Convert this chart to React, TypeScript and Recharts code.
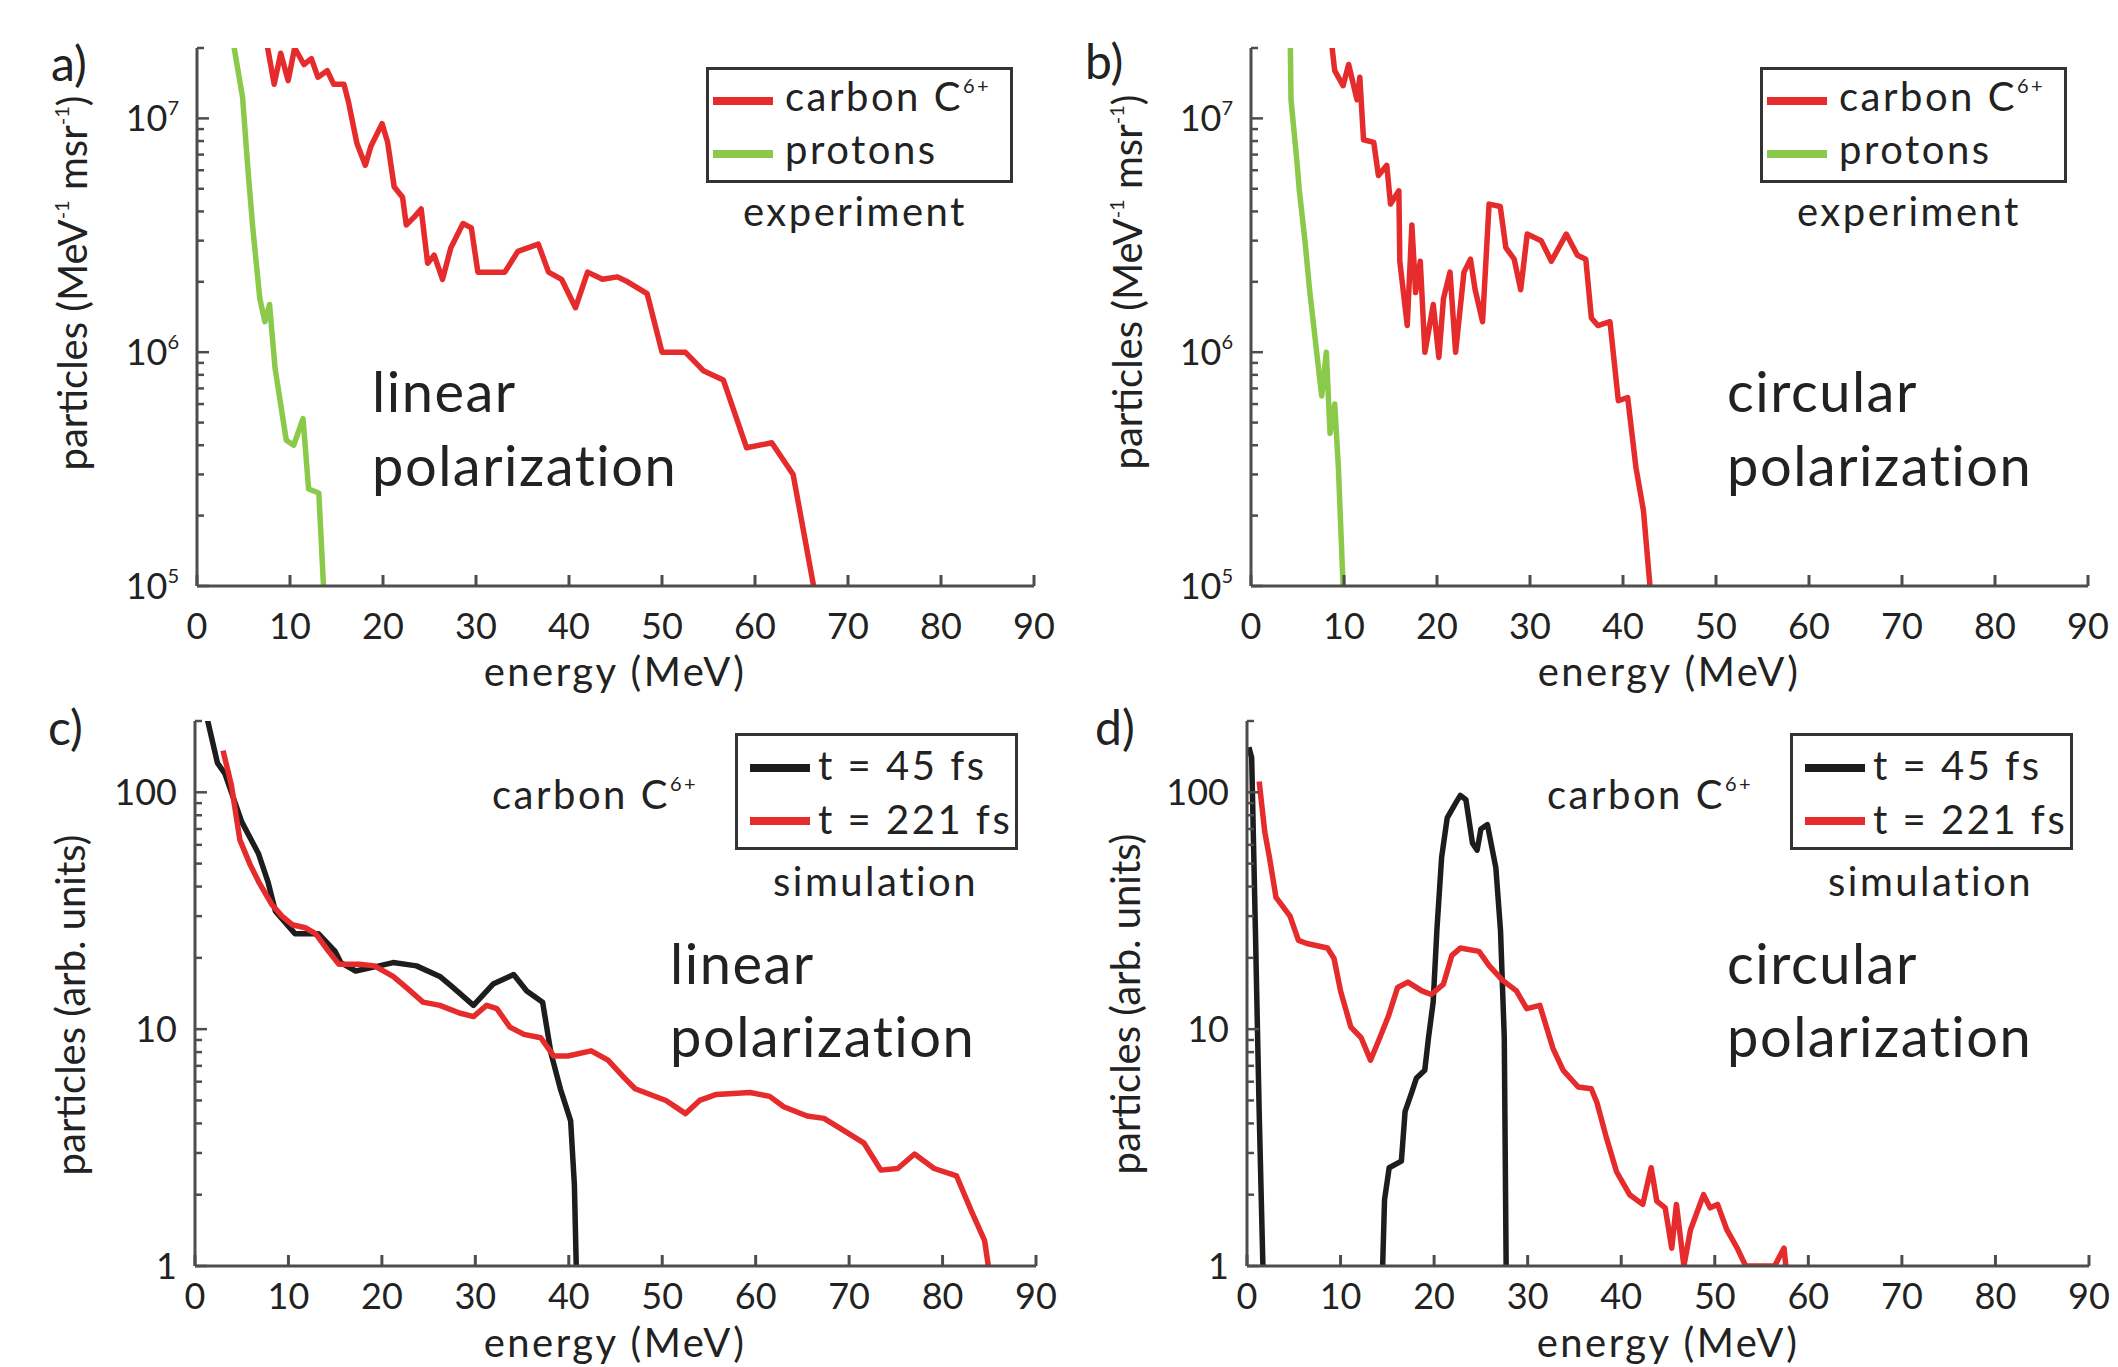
import React from 'react';
import { LineChart, Line, XAxis, YAxis } from 'recharts';

const FONT = 'Lato, "Open Sans", sans-serif';
const INK = '#222';
const FRAME = '#4d4d4d';
const RED = '#e52b2b';
const GREEN = '#8bc94a';
const BLACK = '#1d1d1d';

// shared axes
const energyTicks = [0, 10, 20, 30, 40, 50, 60, 70, 80, 90];
const expTicks = [1e5, 2e5, 3e5, 4e5, 5e5, 6e5, 7e5, 8e5, 9e5, 1e6, 2e6, 3e6, 4e6, 5e6, 6e6, 7e6, 8e6, 9e6, 1e7, 2e7];
const expDecades = [1e5, 1e6, 1e7];
const simTicks = [1, 2, 3, 4, 5, 6, 7, 8, 9, 10, 20, 30, 40, 50, 60, 70, 80, 90, 100, 200];
const simDecades = [1, 10, 100];

// a) experiment, linear polarization
const aCarbonE = [7.0, 7.5, 8.3, 9.0, 9.8, 10.5, 11.5, 12.3, 13.0, 14.0, 14.7, 15.8, 16.3, 17.2, 18.1, 18.7, 19.9, 20.5, 21.2, 22.1, 22.5, 23.4, 24.1, 24.8, 25.5, 26.4, 27.3, 28.6, 29.5, 30.2, 33.1, 34.5, 36.7, 37.8, 39.2, 40.7, 42.0, 43.6, 45.2, 46.3, 48.4, 50.0, 52.5, 54.5, 56.6, 59.1, 61.8, 64.1, 66.3];
const aCarbonN = [26e6, 21e6, 14e6, 19e6, 14.5e6, 20e6, 17e6, 18e6, 15e6, 16e6, 14e6, 14e6, 11.7e6, 7.8e6, 6.3e6, 7.6e6, 9.5e6, 7.9e6, 5.1e6, 4.6e6, 3.5e6, 3.8e6, 4.1e6, 2.4e6, 2.6e6, 2.05e6, 2.8e6, 3.55e6, 3.4e6, 2.2e6, 2.2e6, 2.7e6, 2.9e6, 2.2e6, 2.05e6, 1.55e6, 2.2e6, 2.05e6, 2.1e6, 2.0e6, 1.78e6, 1.0e6, 1.0e6, 8.3e5, 7.6e5, 3.9e5, 4.1e5, 3.0e5, 1.0e5];
const aProtonE = [3.8, 4.0, 4.9, 5.5, 6.0, 6.75, 7.3, 7.8, 8.4, 9.6, 10.4, 11.4, 12.0, 13.1, 13.6];
const aProtonN = [26e6, 2.0e7, 1.23e7, 5.9e6, 3.4e6, 1.7e6, 1.35e6, 1.6e6, 8.5e5, 4.2e5, 4.0e5, 5.2e5, 2.6e5, 2.5e5, 1.0e5];

// b) experiment, circular polarization
const bCarbonE = [8.4, 9.0, 9.9, 10.5, 11.4, 11.7, 12.1, 13.2, 13.7, 14.6, 15.0, 15.9, 16.0, 16.8, 17.3, 17.7, 18.2, 18.7, 19.6, 20.2, 20.7, 21.4, 22.0, 22.9, 23.6, 24.1, 24.9, 25.6, 26.8, 27.4, 28.3, 29.0, 29.7, 31.2, 32.3, 33.9, 35.1, 36.0, 36.6, 37.3, 38.6, 39.5, 40.5, 41.4, 42.2, 42.9];
const bCarbonN = [26e6, 1.6e7, 1.38e7, 1.7e7, 1.2e7, 1.5e7, 8.1e6, 7.9e6, 5.7e6, 6.3e6, 4.3e6, 4.9e6, 2.45e6, 1.3e6, 3.5e6, 1.8e6, 2.45e6, 1.0e6, 1.6e6, 9.5e5, 1.7e6, 2.2e6, 1.0e6, 2.2e6, 2.5e6, 1.85e6, 1.35e6, 4.3e6, 4.2e6, 2.8e6, 2.5e6, 1.85e6, 3.2e6, 3.0e6, 2.45e6, 3.2e6, 2.6e6, 2.5e6, 1.4e6, 1.3e6, 1.35e6, 6.2e5, 6.4e5, 3.2e5, 2.1e5, 1.0e5];
const bProtonE = [4.2, 4.3, 4.9, 5.2, 5.8, 6.3, 7.0, 7.6, 8.1, 8.5, 9.0, 9.4, 9.9];
const bProtonN = [26e6, 1.2e7, 6.8e6, 4.9e6, 3.0e6, 1.85e6, 1.05e6, 6.5e5, 1.0e6, 4.5e5, 6.0e5, 3.2e5, 1.0e5];

// c) simulation, linear polarization
const cEarlyE = [0.9, 2.4, 3.2, 5.0, 6.8, 7.8, 8.6, 10.7, 13.2, 15.0, 15.6, 17.2, 19.7, 21.2, 23.7, 26.2, 27.6, 29.8, 31.9, 34.1, 35.5, 37.2, 38.1, 39.1, 40.2, 40.6, 40.8];
const cEarlyN = [240, 133, 120, 75, 55, 42, 31.5, 25.3, 25.3, 21.3, 19.1, 17.6, 18.5, 19.1, 18.5, 16.7, 15, 12.6, 15.5, 17, 14.5, 13, 7.9, 5.6, 4.1, 2.2, 1];
const cLateE = [3.0, 3.9, 4.8, 5.9, 6.8, 8.2, 9.3, 10.4, 11.8, 12.9, 14.3, 15.4, 17.6, 19.2, 21.2, 22.6, 24.4, 26.2, 28.3, 29.8, 31.2, 32.3, 33.7, 35.2, 37.0, 38.4, 39.9, 42.4, 44.2, 46.0, 47.1, 50.4, 52.5, 54.0, 55.8, 59.4, 61.5, 63.0, 65.5, 67.3, 69.1, 71.6, 73.4, 75.2, 77.0, 79.1, 81.5, 83.1, 84.5, 84.9];
const cLateN = [150, 107, 63, 49.5, 42, 33.7, 30, 27.6, 26.8, 25.3, 21.3, 18.8, 18.8, 18.5, 16.7, 15, 13, 12.6, 11.7, 11.3, 12.6, 12.2, 10.2, 9.5, 9.2, 7.7, 7.7, 8.1, 7.4, 6.2, 5.6, 5.0, 4.4, 5.0, 5.3, 5.4, 5.2, 4.7, 4.3, 4.2, 3.8, 3.3, 2.54, 2.58, 2.97, 2.58, 2.4, 1.7, 1.28, 1];

// d) simulation, circular polarization
const dEarlySpikeE = [0.2, 0.5, 0.9, 1.3, 1.7];
const dEarlySpikeN = [155, 140, 26, 4.5, 1];
const dEarlyPeakE = [14.5, 14.7, 15.2, 16.5, 16.9, 17.6, 18.1, 19.0, 19.4, 19.9, 20.3, 20.8, 21.4, 22.3, 22.8, 23.4, 24.1, 24.6, 25.0, 25.7, 26.6, 27.1, 27.5, 27.7];
const dEarlyPeakN = [1, 1.9, 2.6, 2.77, 4.5, 5.4, 6.2, 6.7, 9.2, 13, 26.3, 53, 78, 90, 97, 93, 61, 57, 70, 73, 48, 26, 9.2, 1];
const dLateE = [1.3, 1.9, 2.4, 3.1, 4.6, 5.5, 6.4, 8.6, 9.3, 10.0, 11.1, 12.2, 13.2, 14.0, 15.1, 16.1, 17.2, 18.7, 19.7, 21.0, 21.9, 22.8, 24.8, 25.9, 27.3, 28.8, 29.9, 31.3, 32.7, 33.8, 35.4, 36.8, 37.4, 38.4, 39.5, 40.9, 42.3, 43.2, 43.8, 44.7, 45.4, 45.9, 46.7, 47.4, 48.8, 49.5, 50.3, 51.3, 52.4, 53.3, 56.4, 57.4, 57.6];
const dLateN = [111, 68, 53, 36, 30, 23.7, 23, 22, 19.9, 14.5, 10.2, 9.2, 7.4, 8.8, 11.3, 15, 15.8, 14.5, 14, 15.5, 20.5, 22, 21.3, 18.5, 16.1, 14.5, 12.2, 12.6, 8.3, 6.7, 5.7, 5.6, 4.9, 3.5, 2.5, 2.0, 1.82, 2.6, 1.88, 1.76, 1.19, 1.82, 1, 1.42, 2.0, 1.76, 1.82, 1.42, 1.19, 1, 1, 1.19, 1];

const pts = (e: number[], n: number[]) => e.map((x, i) => ({ e: x, n: n[i] }));

type Series = { e: number[]; n: number[]; color: string };
type Rect = { x: number; y: number; w: number; h: number };

const bottomTick = (gap: number) => (p: any) => (
  <g>
    <line x1={p.x} x2={p.x} y1={p.y} y2={p.y - 11} stroke={FRAME} strokeWidth={3} />
    <text x={p.x} y={p.y + gap} textAnchor="middle" fontFamily={FONT} fontSize={36} fill={INK}>
      {p.payload.value}
    </text>
  </g>
);

const topTick = (p: any) => <line x1={p.x} x2={p.x} y1={p.y} y2={p.y + 11} stroke={FRAME} strokeWidth={3} />;

const leftTick = (decades: number[], power: boolean) => (p: any) => {
  const v = p.payload.value;
  const major = decades.includes(v);
  return (
    <g>
      <line x1={p.x} x2={p.x + (major ? 12 : 7)} y1={p.y} y2={p.y} stroke={FRAME} strokeWidth={2.5} />
      {major && (
        <text x={p.x - 18} y={p.y + 13} textAnchor="end" fontFamily={FONT} fontSize={36} fill={INK}>
          {power ? (
            <>
              <tspan>10</tspan>
              <tspan dy={-16} fontSize={20}>{Math.round(Math.log10(v))}</tspan>
            </>
          ) : (
            v
          )}
        </text>
      )}
    </g>
  );
};

const rightTick = (decades: number[]) => (p: any) => {
  const major = decades.includes(p.payload.value);
  return <line x1={p.x} x2={p.x - (major ? 12 : 7)} y1={p.y} y2={p.y} stroke={FRAME} strokeWidth={2.5} />;
};

function Panel({ plot, domain, ticks, decades, power, gap, series }: {
  plot: Rect; domain: number[]; ticks: number[]; decades: number[]; power: boolean; gap: number; series: Series[];
}) {
  const axisLine = { stroke: FRAME, strokeWidth: 3 };
  return (
    <div style={{ position: 'absolute', left: plot.x - 200, top: plot.y - 20 }}>
      <LineChart width={plot.w + 228} height={plot.h + 115} margin={{ top: 20, right: 28, bottom: 35, left: 0 }}>
        <XAxis dataKey="e" type="number" domain={[0, 90]} ticks={energyTicks} interval={0} allowDataOverflow
          height={60} tickSize={0} tickMargin={0} tickLine={false} axisLine={axisLine} tick={bottomTick(gap)} />
        <XAxis xAxisId="top" orientation="top" dataKey="e" type="number" domain={[0, 90]} ticks={energyTicks} interval={0}
          allowDataOverflow height={0} tickSize={0} tickMargin={0} tickLine={false} axisLine={axisLine} tick={topTick} />
        <YAxis type="number" scale="log" domain={domain} ticks={ticks} interval={0} allowDataOverflow width={200}
          tickSize={0} tickMargin={0} tickLine={false} axisLine={axisLine} tick={leftTick(decades, power)} />
        <YAxis yAxisId="right" orientation="right" type="number" scale="log" domain={domain} ticks={ticks} interval={0}
          allowDataOverflow width={0} tickSize={0} tickMargin={0} tickLine={false} axisLine={axisLine} tick={rightTick(decades)} />
        {series.map((s, i) => (
          <Line key={i} data={pts(s.e, s.n)} dataKey="n" type="linear" stroke={s.color} strokeWidth={5.5}
            strokeLinejoin="round" dot={false} activeDot={false} isAnimationActive={false} />
        ))}
      </LineChart>
    </div>
  );
}

// text placed by its baseline
function T({ x, b, size, children, style }: { x: number; b: number; size: number; children: React.ReactNode; style?: React.CSSProperties }) {
  return (
    <div style={{ position: 'absolute', left: x, top: b - 0.887 * size, fontSize: size, lineHeight: 1, fontFamily: FONT, color: INK, whiteSpace: 'nowrap', ...style }}>
      {children}
    </div>
  );
}

const sup = (s: string) => <sup style={{ fontSize: '0.5em', verticalAlign: '0.9em', lineHeight: 0 }}>{s}</sup>;
const LEG = { letterSpacing: 2.5 };
const BIG = { letterSpacing: 1.5 };

function YLabel({ cx, cy, children }: { cx: number; cy: number; children: React.ReactNode }) {
  return (
    <div style={{ position: 'absolute', left: cx, top: cy, transform: 'translate(-50%, -50%) rotate(-90deg)', fontSize: 40, lineHeight: 1, fontFamily: FONT, color: INK, whiteSpace: 'nowrap' }}>
      {children}
    </div>
  );
}

function XLabel({ cx, b }: { cx: number; b: number }) {
  return <T x={cx} b={b} size={40} style={{ transform: 'translateX(-50%)', letterSpacing: 2.5 }}>energy (MeV)</T>;
}

function Swatch({ x, y, color }: { x: number; y: number; color: string }) {
  return <div style={{ position: 'absolute', left: x, top: y - 4, width: 60, height: 8, background: color }} />;
}

function Box({ x, y, w, h }: { x: number; y: number; w: number; h: number }) {
  return <div style={{ position: 'absolute', left: x, top: y, width: w, height: h, border: '3px solid #333', boxSizing: 'border-box' }} />;
}

function ExpLegend({ dx }: { dx: number }) {
  return (
    <>
      <Box x={706 + dx} y={67} w={307} h={116} />
      <Swatch x={713 + dx} y={101} color={RED} />
      <T x={785 + dx} b={111} size={40} style={LEG}>carbon C{sup('6+')}</T>
      <Swatch x={713 + dx} y={154} color={GREEN} />
      <T x={785 + dx} b={164} size={40} style={LEG}>protons</T>
      <T x={743 + dx} b={226} size={40} style={LEG}>experiment</T>
    </>
  );
}

function SimLegend({ dx }: { dx: number }) {
  return (
    <>
      <Box x={735 + dx} y={733} w={283} h={117} />
      <Swatch x={750 + dx} y={768} color={BLACK} />
      <T x={818 + dx} b={780} size={40} style={LEG}>t = 45 fs</T>
      <Swatch x={750 + dx} y={821} color={RED} />
      <T x={818 + dx} b={834} size={40} style={LEG}>t = 221 fs</T>
      <T x={492 + dx} b={809} size={40} style={LEG}>carbon C{sup('6+')}</T>
      <T x={773 + dx} b={896} size={40} style={LEG}>simulation</T>
    </>
  );
}

const plotA = { x: 197, y: 48, w: 837, h: 538 };
const plotB = { x: 1251, y: 48, w: 837, h: 538 };
const plotC = { x: 195, y: 721, w: 841, h: 545 };
const plotD = { x: 1247, y: 721, w: 842, h: 545 };

export default function App() {
  const expLabel = <>particles (MeV{sup('-1')} msr{sup('-1')})</>;
  return (
    <div style={{ position: 'absolute', left: 0, top: 0, width: 2118, height: 1367, background: '#fff', overflow: 'hidden' }}>
      <Panel plot={plotA} domain={[1e5, 2e7]} ticks={expTicks} decades={expDecades} power gap={53}
        series={[{ e: aProtonE, n: aProtonN, color: GREEN }, { e: aCarbonE, n: aCarbonN, color: RED }]} />
      <Panel plot={plotB} domain={[1e5, 2e7]} ticks={expTicks} decades={expDecades} power gap={53}
        series={[{ e: bProtonE, n: bProtonN, color: GREEN }, { e: bCarbonE, n: bCarbonN, color: RED }]} />
      <Panel plot={plotC} domain={[1, 200]} ticks={simTicks} decades={simDecades} power={false} gap={43}
        series={[{ e: cEarlyE, n: cEarlyN, color: BLACK }, { e: cLateE, n: cLateN, color: RED }]} />
      <Panel plot={plotD} domain={[1, 200]} ticks={simTicks} decades={simDecades} power={false} gap={43}
        series={[
          { e: dEarlySpikeE, n: dEarlySpikeN, color: BLACK },
          { e: dEarlyPeakE, n: dEarlyPeakN, color: BLACK },
          { e: dLateE, n: dLateN, color: RED },
        ]} />

      <T x={51} b={82} size={48}>a)</T>
      <T x={1085} b={80} size={48}>b)</T>
      <T x={48} b={746} size={48}>c)</T>
      <T x={1095} b={746} size={48}>d)</T>

      <YLabel cx={72} cy={283}>{expLabel}</YLabel>
      <YLabel cx={1127} cy={282}>{expLabel}</YLabel>
      <YLabel cx={70} cy={1005}>particles (arb. units)</YLabel>
      <YLabel cx={1125} cy={1004}>particles (arb. units)</YLabel>

      <XLabel cx={615} b={686} />
      <XLabel cx={1669} b={686} />
      <XLabel cx={615} b={1357} />
      <XLabel cx={1668} b={1357} />

      <ExpLegend dx={0} />
      <ExpLegend dx={1054} />
      <SimLegend dx={0} />
      <SimLegend dx={1055} />

      <T x={372} b={413} size={56} style={BIG}>linear</T>
      <T x={372} b={487} size={56} style={BIG}>polarization</T>
      <T x={1727} b={413} size={56} style={BIG}>circular</T>
      <T x={1727} b={487} size={56} style={BIG}>polarization</T>
      <T x={670} b={985} size={56} style={BIG}>linear</T>
      <T x={670} b={1058} size={56} style={BIG}>polarization</T>
      <T x={1727} b={985} size={56} style={BIG}>circular</T>
      <T x={1727} b={1058} size={56} style={BIG}>polarization</T>
    </div>
  );
}
